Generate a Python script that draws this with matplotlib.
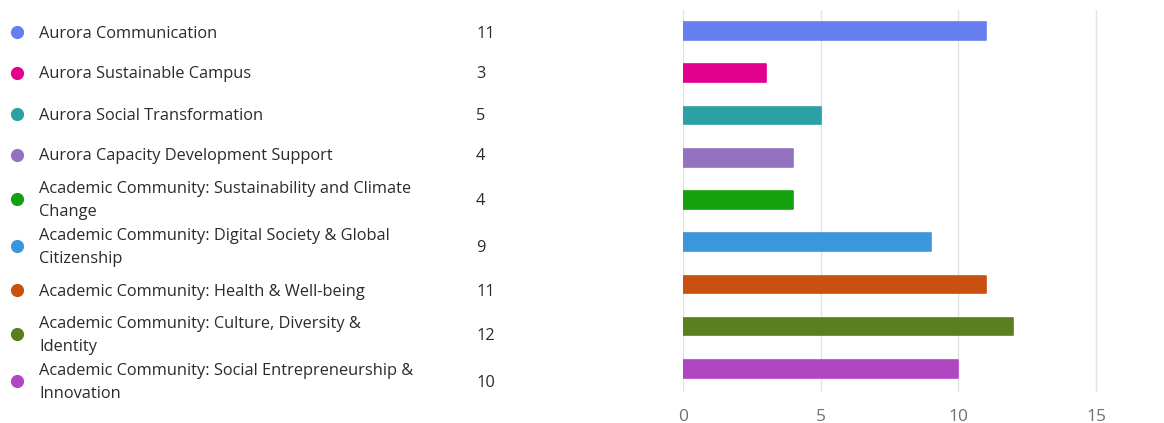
import matplotlib
matplotlib.use("Agg")
import matplotlib.pyplot as plt
from matplotlib.lines import Line2D

categories = [
    "Aurora Communication",
    "Aurora Sustainable Campus",
    "Aurora Social Transformation",
    "Aurora Capacity Development Support",
    "Academic Community: Sustainability and Climate\nChange",
    "Academic Community: Digital Society & Global\nCitizenship",
    "Academic Community: Health & Well-being",
    "Academic Community: Culture, Diversity &\nIdentity",
    "Academic Community: Social Entrepreneurship &\nInnovation",
]
values = [11, 3, 5, 4, 4, 9, 11, 12, 10]
colors = ["#667fee", "#e3008c", "#2ba0a5", "#9373c0", "#13a10e",
          "#3a96dd", "#ca5010", "#5a7f1e", "#b146c2"]
xticks = [0, 5, 10, 15]

plt.rcParams['font.family'] = ['Open Sans', 'DejaVu Sans']

W, H = 1164, 423
fig = plt.figure(figsize=(W/100, H/100), dpi=100)
ax = fig.add_axes([683/W, 1-392/H, (1129-683)/W, (392-10)/H])

y = list(range(len(categories)))
ax.barh(y, values, height=0.42, color=colors, edgecolor=colors, linewidth=1.2,
        joinstyle='round', zorder=3)
ax.set_xlim(0, 16.2)
ax.set_ylim(8.55, -0.5)
ax.set_xticks(xticks)
ax.set_xticklabels([str(t) for t in xticks], color="#707070", fontsize=12.5)
ax.set_yticks([])
ax.tick_params(axis='x', length=0, pad=12)
for s in ax.spines.values():
    s.set_visible(False)
ax.grid(axis='x', color="#e3e3e3", linewidth=1, zorder=0)

# legend-like table on the left (rows flow by their own heights)
row_one, row_two = 41, 47
ypix = 33.5
prev_h = None
for i, (cat, val, col) in enumerate(zip(categories, values, colors)):
    h = row_two if "\n" in cat else row_one
    if prev_h is not None:
        ypix += (prev_h + h) / 2
    prev_h = h
    yf = 1 - ypix / H
    fig.add_artist(Line2D([17/W], [1 - (ypix - 1.5) / H], marker='o', markersize=9.5,
                          color=col, markeredgewidth=0, transform=fig.transFigure))
    fig.text(39/W, yf, cat, color="#2b2b2b", fontsize=11.8, ha='left', va='center',
             linespacing=1.55)
    fig.text(476/W, yf, str(val), color="#2b2b2b", fontsize=11.8, ha='left', va='center')

fig.savefig("out.png", dpi=100, facecolor="white")
